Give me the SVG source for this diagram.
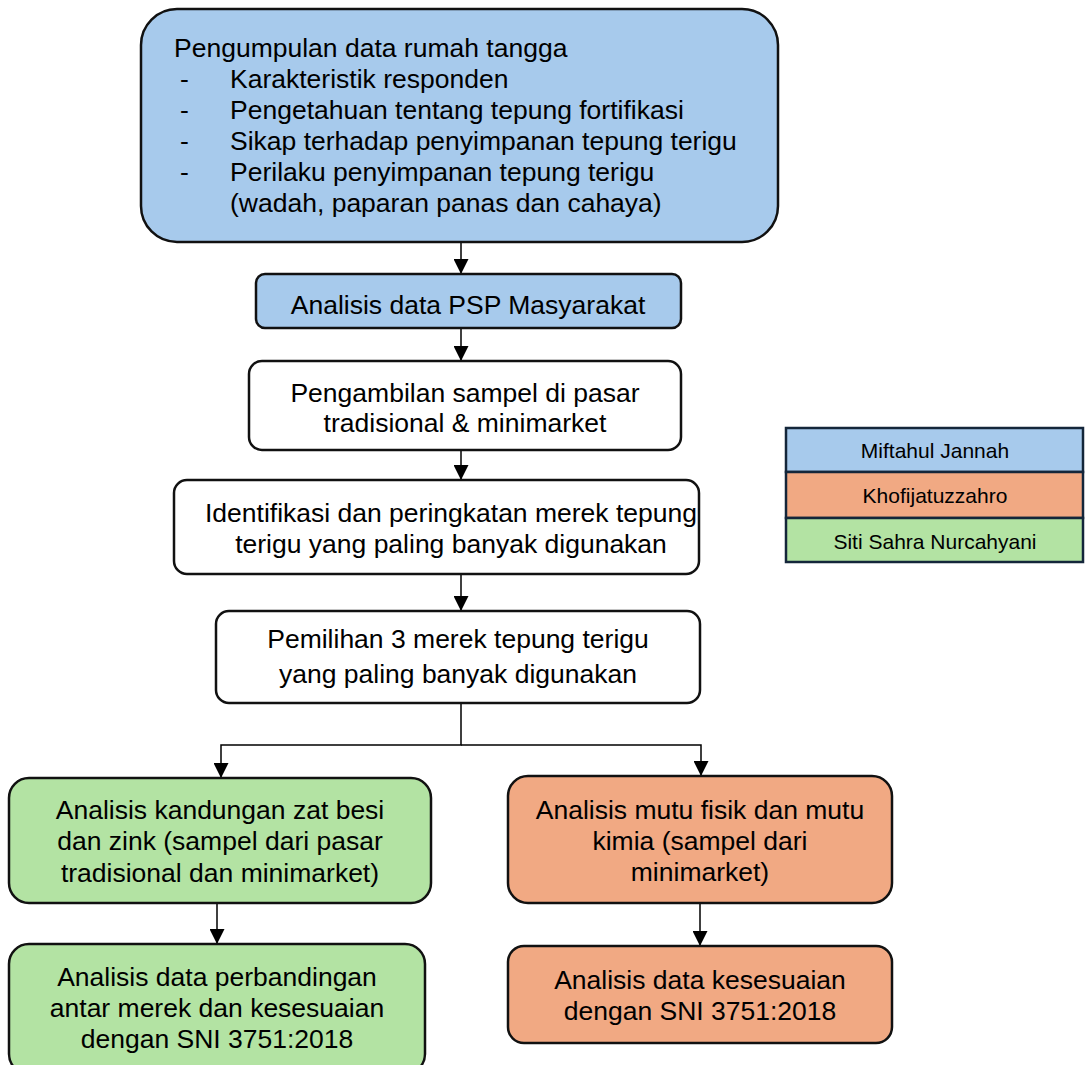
<svg xmlns="http://www.w3.org/2000/svg" width="1089" height="1065" viewBox="0 0 1089 1065">
<style>
text{font-family:"Liberation Sans",Arial,sans-serif;font-size:26.5px;fill:#000}
.c{text-anchor:middle}
.box{stroke:#111;stroke-width:2.5}
.blue{fill:#A7CAEC}.orange{fill:#F1A983}.green{fill:#B3E3A3}.white{fill:#fff}
.leg{stroke:#14263a;stroke-width:2.5}
.lt{font-size:21px}
.con{fill:none;stroke:#000;stroke-width:1.5}
</style>
<defs>
<marker id="ah" viewBox="0 0 15 15" refX="15" refY="7.5" markerWidth="15" markerHeight="15" markerUnits="userSpaceOnUse" orient="auto">
<path d="M0,0 L15,7.5 L0,15 Z" fill="#000"/>
</marker>
</defs>
<g id="connectors">
<line class="con" x1="461" y1="243" x2="461" y2="274" marker-end="url(#ah)"/>
<line class="con" x1="461" y1="329" x2="461" y2="361" marker-end="url(#ah)"/>
<line class="con" x1="461" y1="451" x2="461" y2="480" marker-end="url(#ah)"/>
<line class="con" x1="461" y1="575" x2="461" y2="611" marker-end="url(#ah)"/>
<polyline class="con" points="461,704 461,745 221,745 221,778" marker-end="url(#ah)"/>
<polyline class="con" points="461,745 701,745 701,776" marker-end="url(#ah)"/>
<line class="con" x1="217" y1="904" x2="217" y2="944" marker-end="url(#ah)"/>
<line class="con" x1="700" y1="904" x2="700" y2="946" marker-end="url(#ah)"/>
</g>
<g id="n1">
<rect class="box blue" x="141" y="9" width="637" height="233" rx="36"/>
<text x="174" y="57">Pengumpulan data rumah tangga</text>
<text x="180" y="88">-</text><text x="230" y="88">Karakteristik responden</text>
<text x="180" y="119">-</text><text x="230" y="119">Pengetahuan tentang tepung fortifikasi</text>
<text x="180" y="150">-</text><text x="230" y="150">Sikap terhadap penyimpanan tepung terigu</text>
<text x="180" y="181">-</text><text x="230" y="181">Perilaku penyimpanan tepung terigu</text>
<text x="230" y="212">(wadah, paparan panas dan cahaya)</text>
</g>
<g id="n2">
<rect class="box blue" x="256" y="274" width="425" height="54" rx="9"/>
<text class="c" x="468" y="314">Analisis data PSP Masyarakat</text>
</g>
<g id="n3">
<rect class="box white" x="249" y="361" width="432" height="89" rx="13"/>
<text class="c" x="465" y="402">Pengambilan sampel di pasar</text>
<text class="c" x="465" y="432">tradisional &amp; minimarket</text>
</g>
<g id="n4">
<rect class="box white" x="174" y="480" width="525" height="94" rx="13"/>
<text class="c" x="451" y="522">Identifikasi dan peringkatan merek tepung</text>
<text class="c" x="451" y="553">terigu yang paling banyak digunakan</text>
</g>
<g id="n5">
<rect class="box white" x="216" y="611" width="484" height="92" rx="13"/>
<text class="c" x="458" y="648">Pemilihan 3 merek tepung terigu</text>
<text class="c" x="458" y="683">yang paling banyak digunakan</text>
</g>
<g id="n6">
<rect class="box green" x="9" y="778" width="422" height="125" rx="20"/>
<text class="c" x="220" y="819">Analisis kandungan zat besi</text>
<text class="c" x="220" y="850">dan zink (sampel dari pasar</text>
<text class="c" x="220" y="882">tradisional dan minimarket)</text>
</g>
<g id="n7">
<rect class="box orange" x="508" y="776" width="384" height="127" rx="20"/>
<text class="c" x="700" y="819">Analisis mutu fisik dan mutu</text>
<text class="c" x="700" y="850">kimia (sampel dari</text>
<text class="c" x="700" y="881">minimarket)</text>
</g>
<g id="n8">
<rect class="box green" x="9" y="944" width="416" height="130" rx="20"/>
<text class="c" x="217" y="986">Analisis data perbandingan</text>
<text class="c" x="217" y="1017">antar merek dan kesesuaian</text>
<text class="c" x="217" y="1048">dengan SNI 3751:2018</text>
</g>
<g id="n9">
<rect class="box orange" x="508" y="946" width="384" height="97" rx="16"/>
<text class="c" x="700" y="989">Analisis data kesesuaian</text>
<text class="c" x="700" y="1020">dengan SNI 3751:2018</text>
</g>
<g id="legend">
<rect class="leg blue" x="786" y="428" width="297" height="44"/>
<rect class="leg orange" x="786" y="472" width="297" height="46"/>
<rect class="leg green" x="786" y="518" width="297" height="44"/>
<text class="c lt" x="935" y="458">Miftahul Jannah</text>
<text class="c lt" x="935" y="503">Khofijatuzzahro</text>
<text class="c lt" x="935" y="549">Siti Sahra Nurcahyani</text>
</g>
</svg>
